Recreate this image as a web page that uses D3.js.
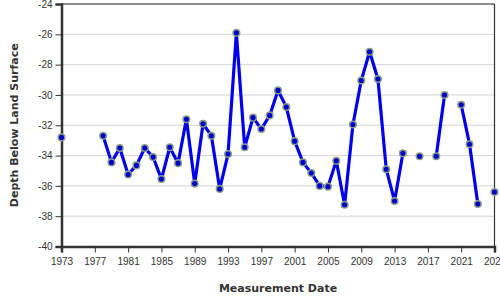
<!DOCTYPE html>
<html lang="en">
<head>
<meta charset="UTF-8">
<title>Depth Below Land Surface</title>
<script src="https://d3js.org/d3.v7.min.js"></script>
<style>
  body { margin: 0; padding: 0; background: #fff; }
  svg { display: block; font-family: "DejaVu Sans", Verdana, sans-serif; }
  .tick text { fill: #333; font-size: 10px; }
  .axis-title { fill: #333; font-size: 11px; font-weight: bold; }
</style>
</head>
<body>
<div id="chart"></div>
<script>
// measurement years (null depth = no measurement, breaks the line)
const years = [1973, 1974, 1975, 1976, 1977, 1978, 1979, 1980, 1981, 1982, 1983, 1984, 1985,
  1986, 1987, 1988, 1989, 1990, 1991, 1992, 1993, 1994, 1995, 1996, 1997, 1998, 1999,
  2000, 2001, 2002, 2003, 2004, 2005, 2006, 2007, 2008, 2009, 2010, 2011, 2012, 2013,
  2014, 2015, 2016, 2017, 2018, 2019, 2020, 2021, 2022, 2023, 2024, 2025];
const depths = [-32.8, null, null, null, null, -32.7, -34.45, -33.5, -35.25, -34.65, -33.5, -34.1, -35.55,
  -33.45, -34.5, -31.6, -35.85, -31.9, -32.7, -36.2, -33.9, -25.9, -33.45, -31.5, -32.25, -31.35, -29.7,
  -30.8, -33.05, -34.45, -35.15, -36.0, -36.05, -34.35, -37.25, -31.95, -29.05, -27.15, -28.95, -34.9, -37.0,
  -33.85, null, -34.05, null, -34.05, -30.0, null, -30.65, -33.25, -37.2, null, -36.4];
const xTicks = [1973, 1977, 1981, 1985, 1989, 1993, 1997, 2001, 2005, 2009, 2013, 2017, 2021, 2025];
const yTicks = [-24, -26, -28, -30, -32, -34, -36, -38, -40];

const data = years.map((y, i) => ({ year: y, depth: depths[i] }));

const width = 500, height = 300;
const margin = { top: 4, right: 5.5, bottom: 53.5, left: 61.5 };
const innerW = width - margin.left - margin.right;
const innerH = height - margin.top - margin.bottom;

const svg = d3.select("#chart").append("svg")
  .attr("width", width)
  .attr("height", height);

const g = svg.append("g")
  .attr("transform", `translate(${margin.left},${margin.top})`);

const x = d3.scaleLinear().domain([1973, 2025]).range([0, innerW]);
const y = d3.scaleLinear().domain([-40, -24]).range([innerH, 0]);

// gridlines
g.selectAll(".grid")
  .data(yTicks)
  .enter().append("line")
  .attr("x1", 0).attr("x2", innerW)
  .attr("y1", d => y(d)).attr("y2", d => y(d))
  .attr("stroke", "#d4d4d4")
  .attr("stroke-width", 1);

// frame top and right
g.append("line").attr("x1", 0).attr("x2", innerW).attr("y1", 0).attr("y2", 0)
  .attr("stroke", "#333").attr("stroke-width", 1.2);
g.append("line").attr("x1", innerW).attr("x2", innerW).attr("y1", 0).attr("y2", innerH)
  .attr("stroke", "#333").attr("stroke-width", 1.2);

// axes
const xAxis = g.append("g")
  .attr("transform", `translate(0,${innerH})`)
  .call(d3.axisBottom(x).tickValues(xTicks).tickFormat(d3.format("d")).tickSize(6).tickPadding(5));
const yAxis = g.append("g")
  .call(d3.axisLeft(y).tickValues(yTicks).tickSize(6).tickPadding(3));

[xAxis, yAxis].forEach(a => {
  a.select(".domain").attr("stroke", "#333").attr("stroke-width", 2.5);
  a.selectAll(".tick line").attr("stroke", "#333").attr("stroke-width", 1);
  a.selectAll(".tick text").style("fill", "#333").style("font-size", "10px");
});
yAxis.selectAll(".tick text").text(d => d < 0 ? "-" + Math.abs(d) : d);

// line
const line = d3.line()
  .defined(d => d.depth !== null)
  .x(d => x(d.year))
  .y(d => y(d.depth));

g.append("path")
  .datum(data)
  .attr("fill", "none")
  .attr("stroke", "#0000ee")
  .attr("stroke-width", 3.2)
  .attr("stroke-linejoin", "round")
  .attr("d", line);

// markers
g.selectAll(".pt")
  .data(data.filter(d => d.depth !== null))
  .enter().append("circle")
  .attr("class", "pt")
  .attr("cx", d => x(d.year))
  .attr("cy", d => y(d.depth))
  .attr("r", 3.3)
  .attr("fill", "#0000cc")
  .attr("stroke", "#8a9e8a")
  .attr("stroke-width", 1.5);

// axis titles
svg.append("text")
  .attr("class", "axis-title")
  .attr("x", margin.left + innerW / 2)
  .attr("y", 292)
  .attr("text-anchor", "middle")
  .text("Measurement Date");

svg.append("text")
  .attr("class", "axis-title")
  .attr("transform", "rotate(-90)")
  .attr("x", -(margin.top + innerH / 2))
  .attr("y", 18)
  .attr("text-anchor", "middle")
  .text("Depth Below Land Surface");
</script>
</body>
</html>
